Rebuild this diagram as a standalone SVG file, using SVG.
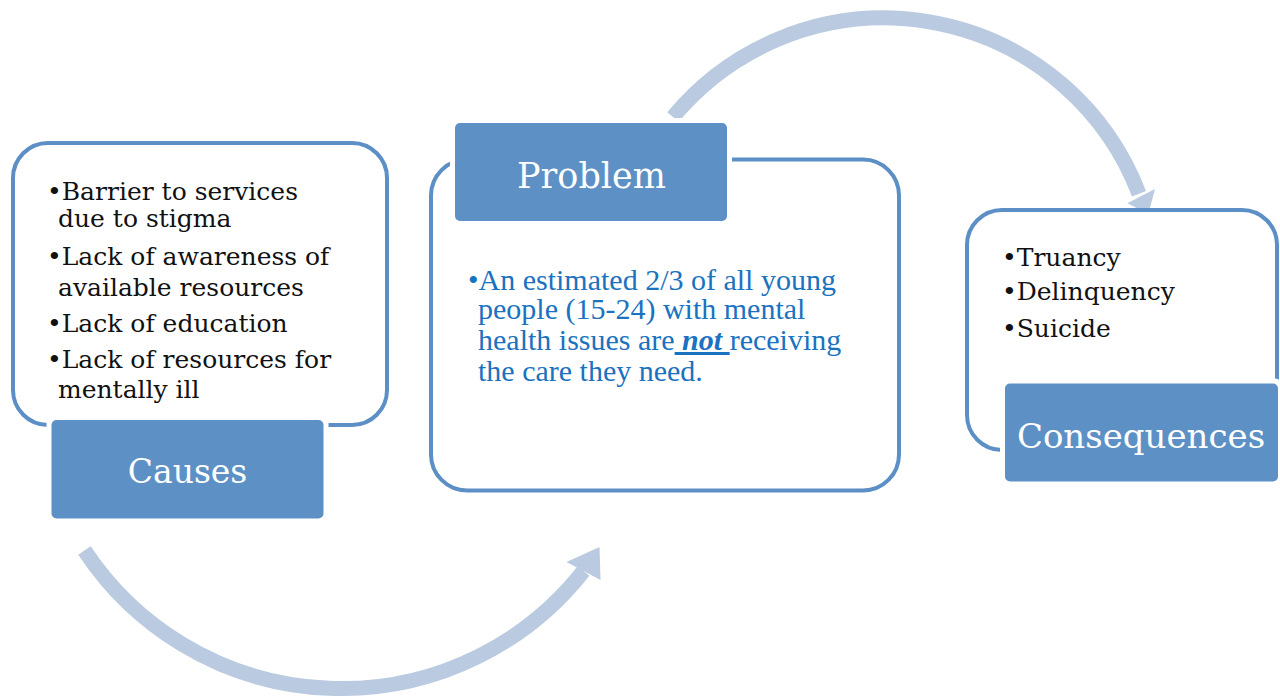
<svg xmlns="http://www.w3.org/2000/svg" width="1280" height="698" viewBox="0 0 1280 698">
<style>
.frame{fill:#ffffff;stroke:#5b8fc5;stroke-width:4}
.gap{fill:#ffffff}
.label{fill:#5d91c5}
.ltxt{font-family:"DejaVu Serif",serif;fill:#ffffff;text-anchor:middle}
.btxt{font-family:"DejaVu Serif",serif;font-size:25px;fill:#111111}
.ptxt{font-family:"Liberation Serif","Times New Roman",serif;font-size:30px;fill:#1a72c0}
.arc{fill:none;stroke:#bacae0;stroke-width:15}
.head{fill:#bacae0}
</style>
<rect width="1280" height="698" fill="#ffffff"/>
<g id="connectors">
  <path class="arc" d="M 84.5 550.5 A 308 308 0 0 0 583.5 571"/>
  <polygon class="head" points="599.5,547 600.5,580 566.5,562"/>
  <path class="arc" d="M 673 117 A 273.5 273.5 0 0 1 1139 193.7"/>
  <polygon class="head" points="1148.3,214 1155,189 1127.3,203.3"/>
</g>
<g id="causes">
  <rect class="frame" x="13" y="143" width="374" height="282" rx="35"/>
  <text class="btxt" x="47" y="200">•Barrier to services</text>
  <text class="btxt" x="58" y="227">due to stigma</text>
  <text class="btxt" x="47" y="265">•Lack of awareness of</text>
  <text class="btxt" x="58" y="296">available resources</text>
  <text class="btxt" x="47" y="332">•Lack of education</text>
  <text class="btxt" x="47" y="368">•Lack of resources for</text>
  <text class="btxt" x="58" y="398">mentally ill</text>
  <rect class="gap" x="46.5" y="415" width="282" height="108.5" rx="8"/>
  <rect class="label" x="51.5" y="420" width="272" height="98.5" rx="5"/>
  <text class="ltxt" x="187.5" y="482.5" font-size="33">Causes</text>
</g>
<g id="problem">
  <rect class="frame" x="431" y="159.5" width="468" height="331" rx="36"/>
  <rect class="gap" x="450" y="118" width="282" height="108" rx="8"/>
  <rect class="label" x="455" y="123" width="272" height="98" rx="5"/>
  <text class="ltxt" x="591.5" y="187.5" font-size="35">Problem</text>
  <text class="ptxt" x="468" y="290">•An estimated 2/3 of all young</text>
  <text class="ptxt" x="478" y="319">people (15-24) with mental</text>
  <text class="ptxt" x="478" y="350">health issues are<tspan font-weight="bold" font-style="italic" text-decoration="underline"> not </tspan>receiving</text>
  <text class="ptxt" x="478" y="381">the care they need.</text>
</g>
<g id="consequences">
  <rect class="frame" x="967" y="210" width="310" height="240" rx="35"/>
  <text class="btxt" x="1002" y="266">•Truancy</text>
  <text class="btxt" x="1002" y="300">•Delinquency</text>
  <text class="btxt" x="1002" y="336.5">•Suicide</text>
  <rect class="gap" x="1000" y="378.5" width="283" height="108" rx="8"/>
  <rect class="label" x="1005" y="383.5" width="273" height="98" rx="5"/>
  <text class="ltxt" x="1141" y="447.5" font-size="34">Consequences</text>
</g>
</svg>
